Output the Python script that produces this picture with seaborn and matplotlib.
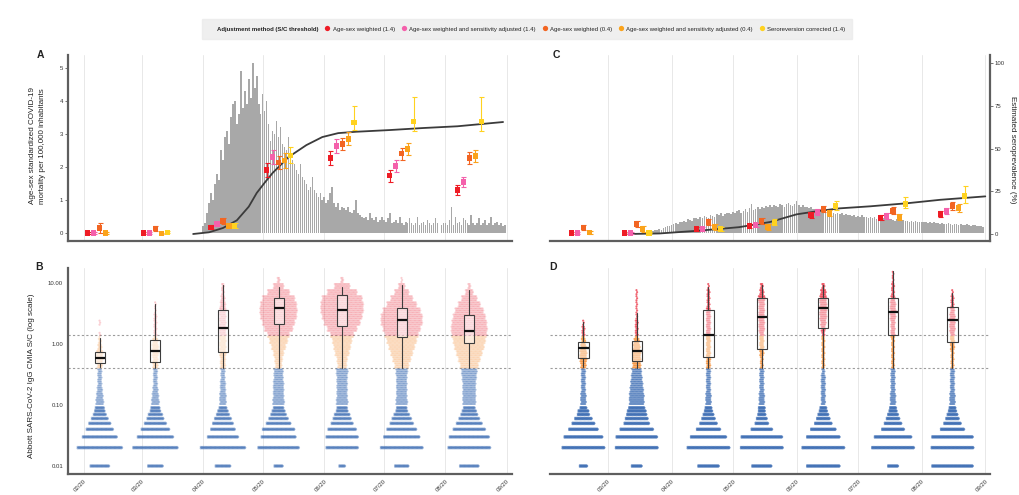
import numpy as np
import pandas as pd
import matplotlib
matplotlib.use("Agg")
import matplotlib.pyplot as plt
import matplotlib.dates as mdates
from matplotlib.lines import Line2D
import seaborn as sns

# ------------------------------------------------------------------ data
method_labels = [
    "Age-sex weighted (1.4)",
    "Age-sex weighted and sensitivity adjusted (1.4)",
    "Age-sex weighted (0.4)",
    "Age-sex weighted and sensitivity adjusted (0.4)",
    "Seroreversion corrected (1.4)",
]
method_colors = ["#ee1c25", "#f460ab", "#f26522", "#fba31b", "#ffd21f"]

manaus_ticks = ["2020-02-01", "2020-03-01", "2020-04-01", "2020-05-01",
                "2020-06-01", "2020-07-01", "2020-08-01", "2020-09-01"]
manaus_tick_labels = ["02/20", "03/20", "04/20", "05/20", "06/20", "07/20", "08/20", "09/20"]
sp_ticks = ["2020-03-01", "2020-04-01", "2020-05-01", "2020-06-01",
            "2020-07-01", "2020-08-01", "2020-09-01"]
sp_tick_labels = ["03/20", "04/20", "05/20", "06/20", "07/20", "08/20", "09/20"]

# daily age-sex standardised mortality per 100,000 (Manaus, from 1 April)
manaus_deaths_apr = [0.2, 0.3, 0.6, 0.9, 1.2, 1.0, 1.5, 1.8, 1.6, 2.5,
                     2.2, 2.9, 3.1, 2.7, 3.5, 3.9, 4.0, 3.3, 3.6, 4.9,
                     3.8, 4.3, 3.9, 4.65, 4.1, 5.15, 4.4, 4.75, 3.9, 3.6]
manaus_deaths_may = [4.2, 3.7, 4.0, 3.3, 2.8, 3.1, 3.0, 3.4, 2.9, 3.2,
                     2.7, 2.6, 2.5, 2.9, 2.3, 2.2, 2.1, 1.9, 1.8, 2.1,
                     1.7, 1.6, 1.5, 1.3, 1.4, 1.7, 1.3, 1.2, 1.1, 1.2, 1.0]
manaus_deaths_jun = [1.1, 0.9, 1.0, 1.2, 1.4, 0.9, 0.8, 0.9, 0.7, 0.8,
                     0.75, 0.7, 0.8, 0.65, 0.6, 0.7, 1.0, 0.6, 0.55, 0.5,
                     0.45, 0.5, 0.4, 0.6, 0.45, 0.4, 0.5, 0.35, 0.4, 0.5]
manaus_deaths_jul = [0.4, 0.35, 0.45, 0.6, 0.3, 0.35, 0.4, 0.3, 0.5, 0.3,
                     0.25, 0.35, 0.3, 0.45, 0.3, 0.25, 0.3, 0.5, 0.25, 0.3,
                     0.35, 0.25, 0.4, 0.3, 0.25, 0.3, 0.45, 0.3, 0.0, 0.25, 0.3]
manaus_deaths_aug = [0.3, 0.25, 0.4, 0.8, 0.25, 0.5, 0.3, 0.35, 0.25, 0.45,
                     0.4, 0.3, 0.25, 0.55, 0.3, 0.25, 0.3, 0.45, 0.25, 0.3,
                     0.4, 0.25, 0.3, 0.5, 0.25, 0.3, 0.35, 0.25, 0.3, 0.2, 0.25]

# daily age-sex standardised mortality per 100,000 (São Paulo, from 20 March)
sp_deaths_mar = [0.02, 0.03, 0.05, 0.06, 0.08, 0.1, 0.12, 0.1, 0.15, 0.18, 0.2, 0.22]
sp_deaths_apr = [0.25, 0.28, 0.3, 0.27, 0.32, 0.35, 0.38, 0.33, 0.42, 0.4,
                 0.36, 0.45, 0.47, 0.43, 0.5, 0.46, 0.52, 0.5, 0.45, 0.55,
                 0.53, 0.5, 0.58, 0.55, 0.6, 0.52, 0.57, 0.62, 0.6, 0.58]
sp_deaths_may = [0.63, 0.6, 0.66, 0.7, 0.62, 0.68, 0.72, 0.65, 0.75, 0.88,
                 0.7, 0.74, 0.78, 0.72, 0.8, 0.76, 0.83, 0.78, 0.85, 0.8,
                 0.86, 0.82, 0.78, 0.88, 0.84, 0.8, 0.87, 0.9, 0.85, 0.82, 0.88]
sp_deaths_jun = [0.97, 0.85, 0.8, 0.84, 0.78, 0.8, 0.75, 0.78, 0.72, 0.74,
                 0.7, 0.68, 0.72, 0.67, 0.64, 0.68, 0.62, 0.65, 0.6, 0.58,
                 0.62, 0.57, 0.6, 0.55, 0.58, 0.54, 0.56, 0.52, 0.55, 0.5]
sp_deaths_jul = [0.52, 0.5, 0.54, 0.48, 0.5, 0.47, 0.5, 0.46, 0.48, 0.44,
                 0.47, 0.43, 0.45, 0.42, 0.44, 0.4, 0.43, 0.41, 0.38, 0.42,
                 0.39, 0.37, 0.4, 0.36, 0.38, 0.35, 0.37, 0.34, 0.36, 0.33, 0.35]
sp_deaths_aug = [0.33, 0.32, 0.34, 0.31, 0.33, 0.3, 0.32, 0.29, 0.31, 0.27,
                 0.3, 0.28, 0.26, 0.29, 0.27, 0.25, 0.28, 0.26, 0.24, 0.27,
                 0.25, 0.23, 0.26, 0.24, 0.22, 0.25, 0.23, 0.21, 0.22, 0.2, 0.18]

# modelled cumulative attack rate (%)
manaus_curve_dates = ["2020-03-27", "2020-04-04", "2020-04-11", "2020-04-18", "2020-04-24",
                      "2020-04-28", "2020-05-02", "2020-05-06", "2020-05-14", "2020-05-23",
                      "2020-05-31", "2020-06-08", "2020-06-17", "2020-07-04", "2020-07-21",
                      "2020-08-07", "2020-08-30"]
manaus_curve = [0, 1, 3.5, 8, 16, 24, 30, 35.7, 45, 52, 56.7, 59, 59.8, 60.8, 62, 63, 65.5]
sp_curve_dates = ["2020-03-11", "2020-03-26", "2020-04-15", "2020-05-04", "2020-05-19",
                  "2020-06-01", "2020-06-12", "2020-06-22", "2020-07-07", "2020-07-25",
                  "2020-08-10", "2020-09-01"]
sp_curve = [0, 0.3, 2.0, 4.0, 7.0, 11.5, 13.5, 15.0, 16.2, 18.0, 20.0, 22.0]

# seroprevalence estimates (%) with 95% CI, one list per adjustment method
manaus_survey_dates = ["2020-02-09", "2020-03-08", "2020-04-11", "2020-05-09",
                       "2020-06-10", "2020-07-10", "2020-08-13"]
manaus_est = [
    [0.6, 0.6, 4.0, 37.4, 44.4, 34.0, 25.7],
    [0.6, 0.6, 5.8, 45.0, 51.5, 39.8, 30.4],
    [3.5, 3.0, 7.6, 42.0, 52.6, 47.0, 44.4],
    [0.6, 0.2, 4.7, 43.0, 55.6, 49.7, 45.6],
    [np.nan, 1.0, 4.7, 46.0, 65.0, 66.0, 66.0],
]
manaus_lo = [
    [0.2, 0.2, 3.0, 33.4, 40.5, 30.7, 22.7],
    [0.2, 0.2, 4.5, 40.7, 47.5, 36.3, 27.2],
    [0.5, 1.5, 6.1, 38.2, 49.1, 43.5, 41.0],
    [0.1, 0.0, 3.3, 38.8, 51.8, 46.1, 42.1],
    [np.nan, 0.3, 3.5, 41.5, 61.0, 60.5, 60.5],
]
manaus_hi = [
    [1.2, 1.2, 5.2, 41.4, 48.3, 37.3, 28.7],
    [1.0, 1.0, 7.1, 49.3, 55.5, 43.3, 33.6],
    [6.5, 4.5, 9.1, 45.8, 56.1, 50.5, 47.8],
    [1.1, 0.5, 6.1, 47.2, 59.4, 53.3, 49.1],
    [np.nan, 2.0, 6.5, 51.0, 74.7, 80.0, 80.0],
]
sp_survey_dates = ["2020-02-18", "2020-03-15", "2020-04-19", "2020-05-15",
                   "2020-06-14", "2020-07-18", "2020-08-16"]
sp_est = [
    [0.6, 0.6, 2.9, 4.7, 11.1, 9.4, 11.7],
    [0.6, 0.6, 2.9, 5.3, 12.9, 10.5, 13.5],
    [4.0, 5.8, 7.0, 7.6, 14.6, 13.5, 16.4],
    [1.0, 2.9, 4.1, 4.1, 12.3, 9.9, 15.2],
    [np.nan, 0.6, 2.9, 6.4, 16.4, 17.5, 22.2],
]
sp_lo = [
    [0.2, 0.2, 1.9, 3.5, 9.5, 7.9, 10.1],
    [0.2, 0.2, 1.9, 3.9, 11.0, 8.8, 11.6],
    [2.5, 4.0, 5.2, 5.8, 12.6, 11.5, 14.2],
    [0.2, 1.4, 2.5, 2.5, 10.3, 7.9, 13.0],
    [np.nan, 0.3, 2.0, 5.0, 14.0, 15.0, 18.0],
]
sp_hi = [
    [1.0, 1.0, 3.9, 5.9, 12.7, 10.9, 13.3],
    [1.0, 1.0, 3.9, 6.7, 14.8, 12.2, 15.4],
    [5.5, 7.6, 8.8, 9.4, 16.6, 15.5, 18.6],
    [1.8, 4.4, 5.7, 5.7, 14.3, 11.9, 17.4],
    [np.nan, 1.2, 4.0, 8.5, 19.5, 21.5, 28.0],
]

# S/C value levels: discrete low readings, then 0.1-decade bins
sc_rows = [0.01, 0.02, 0.03, 0.04, 0.05, 0.06, 0.07, 0.08, 0.09]
sc_bin_log_centres = np.linspace(-0.95, 1.15, 22)

# dots per row (low readings) and per bin, one list per monthly sample
manaus_row_counts = [
    [15, 35, 27, 21, 17, 13, 10, 8, 7],
    [12, 35, 28, 22, 17, 13, 11, 8, 7],
    [12, 35, 24, 19, 16, 13, 10, 8, 6],
    [7, 32, 27, 25, 19, 15, 12, 10, 8],
    [5, 25, 25, 22, 17, 14, 12, 9, 8],
    [11, 33, 28, 23, 18, 15, 12, 9, 8],
    [15, 33, 31, 25, 20, 16, 13, 11, 9],
]
manaus_bin_counts = [
    [6, 5, 4, 3, 3, 3, 4, 5, 5, 3, 2, 1, 0, 1, 0, 0, 0, 0, 0, 0, 0, 0],
    [6, 5, 4, 3, 3, 3, 4, 4, 5, 5, 4, 2, 2, 2, 2, 1, 1, 0, 0, 0, 0, 0],
    [5, 5, 4, 4, 3, 3, 4, 4, 5, 5, 5, 5, 5, 5, 5, 5, 4, 3, 2, 2, 0, 0],
    [9, 8, 8, 8, 7, 7, 5, 6, 8, 11, 14, 17, 22, 25, 28, 29, 28, 25, 17, 8, 2, 0],
    [9, 8, 8, 8, 8, 9, 7, 8, 11, 13, 15, 18, 23, 28, 31, 33, 33, 31, 23, 12, 2, 0],
    [9, 8, 8, 8, 8, 9, 11, 14, 17, 20, 23, 26, 29, 32, 32, 29, 23, 17, 11, 5, 1, 0],
    [10, 10, 10, 10, 11, 12, 14, 17, 20, 23, 25, 27, 28, 27, 25, 22, 17, 12, 6, 2, 0, 0],
]
sp_row_counts = [
    [6, 32, 29, 22, 17, 13, 9, 8, 5],
    [8, 32, 31, 25, 19, 17, 15, 14, 12],
    [16, 32, 27, 18, 13, 10, 8, 6, 5],
    [15, 32, 31, 16, 10, 8, 6, 5, 5],
    [25, 32, 25, 19, 13, 10, 8, 6, 5],
    [8, 32, 28, 17, 13, 10, 8, 6, 5],
    [31, 32, 31, 18, 13, 10, 8, 6, 5],
]
sp_bin_counts = [
    [4, 4, 3, 3, 3, 3, 4, 5, 5, 4, 3, 2, 2, 1, 0, 0, 0, 0, 0, 0, 0, 0],
    [11, 11, 10, 9, 8, 7, 6, 6, 6, 5, 4, 2, 2, 2, 1, 1, 1, 1, 1, 0, 0, 0],
    [4, 4, 3, 3, 3, 3, 3, 3, 3, 3, 3, 3, 3, 3, 3, 3, 2, 2, 2, 1, 0, 0],
    [4, 4, 3, 3, 3, 3, 2, 2, 3, 3, 3, 3, 4, 4, 4, 4, 4, 5, 3, 2, 0, 0],
    [3, 3, 3, 3, 3, 2, 2, 2, 2, 2, 2, 2, 3, 4, 5, 5, 5, 5, 4, 2, 0, 0],
    [4, 4, 3, 3, 3, 3, 2, 2, 2, 2, 2, 3, 3, 3, 4, 4, 4, 3, 2, 2, 1, 1],
    [4, 4, 3, 3, 3, 3, 2, 2, 2, 3, 3, 3, 4, 4, 4, 3, 2, 2, 1, 0, 0, 0],
]

# boxplot summaries of the reactive (S/C >= 0.4) samples
manaus_box_q1 = [0.49, 0.50, 0.74, 2.1, 1.97, 1.3, 1.04]
manaus_box_med = [0.59, 0.78, 1.83, 3.9, 3.6, 2.5, 1.63]
manaus_box_q3 = [0.74, 1.15, 3.6, 5.7, 6.3, 3.9, 3.0]
manaus_box_lo = [0.42, 0.40, 0.40, 0.40, 0.40, 0.40, 0.40]
manaus_box_hi = [1.25, 4.5, 9.3, 8.6, 8.6, 9.3, 7.7]
sp_box_q1 = [0.59, 0.53, 0.61, 0.83, 1.83, 1.4, 1.08]
sp_box_med = [0.86, 0.77, 1.4, 2.8, 3.9, 3.3, 2.5]
sp_box_q3 = [1.08, 1.12, 3.6, 5.7, 5.7, 5.7, 4.0]
sp_box_lo = [0.42, 0.40, 0.40, 0.40, 0.40, 0.40, 0.40]
sp_box_hi = [2.3, 3.2, 8.6, 9.3, 9.3, 16.0, 6.9]

sc_thresholds = [0.4, 1.4]

# ------------------------------------------------------------------ style
sns.set_theme(style="white")
plt.rcParams["font.family"] = ["Liberation Sans", "DejaVu Sans"]
plt.rcParams["text.color"] = "#222222"

SPINE = "#5e5e5e"
GRID = "#e8e8e8"
BAR = "#a8a8a8"
DOT_COLORS = {"neg": "#3f6fb5", "ind": "#f5821f", "pos": "#ea2436"}


def to_num(dates):
    return mdates.date2num(pd.to_datetime(pd.Series(dates)).dt.to_pydatetime())


def style_axis(ax, ticks, left=False, bottom=True, right=False):
    for side, show in (("left", left), ("bottom", bottom), ("right", right), ("top", False)):
        ax.spines[side].set_visible(show)
        ax.spines[side].set_color(SPINE)
        ax.spines[side].set_linewidth(1.6)
    ax.set_xticks(to_num(ticks))
    for t in to_num(ticks):
        ax.axvline(t, color=GRID, lw=0.7, zorder=0)
    ax.tick_params(axis="both", labelsize=4.3, length=2, width=0.6, color=SPINE,
                   labelcolor="#333333", pad=1.5)
    ax.set_xlabel("")
    ax.set_ylabel("")
    ax.grid(False)


def draw_bars(ax, start, monthly):
    vals = np.concatenate([np.asarray(m, float) for m in monthly])
    days = pd.date_range(start, periods=len(vals), freq="D")
    x = mdates.date2num(days.to_pydatetime())
    sns.barplot(x=x, y=vals, native_scale=True, orient="x", color=BAR, saturation=1,
                errorbar=None, width=0.8, linewidth=0, ax=ax, zorder=1)


def draw_estimates(ax, dates, est, lo, hi, dodge=3.0):
    base = to_num(dates)
    frames = []
    for k in range(len(method_labels)):
        e = np.asarray(est[k], float)
        l = np.asarray(lo[k], float)
        h = np.asarray(hi[k], float)
        ok = ~np.isnan(e)
        x = base + (k - 2) * dodge
        ax.errorbar(x[ok], e[ok], yerr=[e[ok] - l[ok], h[ok] - e[ok]], fmt="none",
                    ecolor=method_colors[k], elinewidth=0.8, capsize=1.8, capthick=0.8,
                    zorder=3)
        frames.append(pd.DataFrame({"x": x[ok], "y": e[ok], "method": method_labels[k]}))
    df = pd.concat(frames, ignore_index=True)
    sns.scatterplot(data=df, x="x", y="y", hue="method",
                    palette=dict(zip(method_labels, method_colors)),
                    marker="s", s=14, linewidth=0, legend=False, ax=ax, zorder=4)


def draw_curve(ax, dates, vals):
    sns.lineplot(x=to_num(dates), y=vals, color="#3b3b3b", linewidth=1.3, ax=ax, zorder=2)


def dot_frame(dates, row_counts, bin_counts, step=0.65):
    """Lay the dots of each sample out in centred, staggered rows."""
    centres = to_num(dates)
    xs, ys = [], []
    row_offsets = (-0.012, 0.0, 0.012)
    bin_offsets = (-0.033, 0.0, 0.033)
    for c, rows, bins in zip(centres, row_counts, bin_counts):
        lv = [(np.log10(v), n, row_offsets) for v, n in zip(sc_rows, rows)]
        lv += [(lc, n, bin_offsets) for lc, n in zip(sc_bin_log_centres, bins)]
        for logv, n, offs in lv:
            if n <= 0:
                continue
            for j, off in enumerate(offs):
                k = np.arange(n) - (n - 1) / 2 + (0.3 if j % 2 else -0.2)
                xs.append(c + k * step)
                ys.append(np.full(n, 10 ** (logv + off)))
    x = np.concatenate(xs)
    y = np.concatenate(ys)
    cls = np.where(y < sc_thresholds[0], "neg", np.where(y < sc_thresholds[1], "ind", "pos"))
    return pd.DataFrame({"x": x, "y": y, "cls": cls})


def draw_dots(ax, dates, row_counts, bin_counts, q1, med, q3, lo, hi, alpha_neg, alpha_pos):
    ax.set_yscale("log")
    df = dot_frame(dates, row_counts, bin_counts)
    neg = df[df["cls"] == "neg"]
    rest = df[df["cls"] != "neg"]
    sns.scatterplot(data=neg, x="x", y="y", hue="cls", palette=DOT_COLORS, s=2.4,
                    linewidth=0, alpha=alpha_neg, legend=False, ax=ax, zorder=2)
    sns.scatterplot(data=rest, x="x", y="y", hue="cls", palette=DOT_COLORS, s=2.4,
                    linewidth=0, alpha=alpha_pos, legend=False, ax=ax, zorder=2)
    for thr in sc_thresholds:
        ax.axhline(thr, color="#9c9c9c", lw=0.8, ls=(0, (2, 2)), zorder=1)
    stats = [dict(q1=a, med=b, q3=c, whislo=d, whishi=e, fliers=[])
             for a, b, c, d, e in zip(q1, med, q3, lo, hi)]
    ax.bxp(stats, positions=to_num(dates), widths=5.0, showfliers=False, showcaps=False,
           patch_artist=True, manage_ticks=False, zorder=5,
           boxprops=dict(facecolor=(1, 1, 1, 0.45), edgecolor="#3d3d3d", linewidth=0.8),
           medianprops=dict(color="#111111", linewidth=1.6),
           whiskerprops=dict(color="#3d3d3d", linewidth=0.8))


# ------------------------------------------------------------------ figure
fig = plt.figure(figsize=(10.2, 4.95), dpi=100)
W, H = 1020.0, 495.0


def frame(x0, x1, ytop, ybot):
    return [x0 / W, 1 - ybot / H, (x1 - x0) / W, (ybot - ytop) / H]


ax_a = fig.add_axes(frame(68, 512, 55, 241))
ax_c = fig.add_axes(frame(550, 990, 55, 241))
ax_b = fig.add_axes(frame(68, 512, 268, 474))
ax_d = fig.add_axes(frame(550, 990, 268, 474))

manaus_xlim = (to_num(["2020-01-24"])[0], to_num(["2020-09-03"])[0] + 0.5)
sp_xlim = (to_num(["2020-02-01"])[0] + 0.7, to_num(["2020-09-03"])[0] + 0.3)
mort_ylim = (-0.24, 5.39)
pct_ylim = (-4.1, 104.7)
sc_ylim = (10 ** -2.131, 10 ** 1.246)

# Panel A: Manaus mortality + seroprevalence
draw_bars(ax_a, "2020-04-01", [manaus_deaths_apr, manaus_deaths_may, manaus_deaths_jun,
                               manaus_deaths_jul, manaus_deaths_aug])
style_axis(ax_a, manaus_ticks, left=True)
ax_a.set_xticklabels([])
ax_a.set_yticks([0, 1, 2, 3, 4, 5])
ax_a.set_xlim(*manaus_xlim)
ax_a.set_ylim(*mort_ylim)
ax_a2 = ax_a.twinx()
draw_curve(ax_a2, manaus_curve_dates, manaus_curve)
draw_estimates(ax_a2, manaus_survey_dates, manaus_est, manaus_lo, manaus_hi)
ax_a2.set_ylim(*pct_ylim)
ax_a2.set_xlim(*manaus_xlim)
ax_a2.axis("off")

# Panel C: São Paulo mortality + seroprevalence
draw_bars(ax_c, "2020-03-20", [sp_deaths_mar, sp_deaths_apr, sp_deaths_may,
                               sp_deaths_jun, sp_deaths_jul, sp_deaths_aug])
style_axis(ax_c, sp_ticks)
ax_c.set_xticklabels([])
ax_c.set_yticks([])
ax_c.set_xlim(*sp_xlim)
ax_c.set_ylim(*mort_ylim)
ax_c2 = ax_c.twinx()
draw_curve(ax_c2, sp_curve_dates, sp_curve)
draw_estimates(ax_c2, sp_survey_dates, sp_est, sp_lo, sp_hi)
ax_c2.set_ylim(*pct_ylim)
ax_c2.set_xlim(*sp_xlim)
for side in ("left", "top", "bottom"):
    ax_c2.spines[side].set_visible(False)
ax_c2.spines["right"].set_color(SPINE)
ax_c2.spines["right"].set_linewidth(1.6)
ax_c2.set_yticks([0, 25, 50, 75, 100])
ax_c2.tick_params(axis="y", labelsize=4.3, length=2, width=0.6, color=SPINE,
                  labelcolor="#333333", pad=1.5)
ax_c2.set_ylabel("")
ax_c2.grid(False)

# Panel B: Manaus S/C distributions
draw_dots(ax_b, manaus_survey_dates, manaus_row_counts, manaus_bin_counts,
          manaus_box_q1, manaus_box_med, manaus_box_q3, manaus_box_lo, manaus_box_hi,
          alpha_neg=0.45, alpha_pos=0.22)
style_axis(ax_b, manaus_ticks, left=True)
ax_b.set_xticklabels(manaus_tick_labels, rotation=45, ha="right", rotation_mode="anchor")
ax_b.set_yticks([0.01, 0.1, 1, 10])
ax_b.set_yticklabels(["0.01", "0.10", "1.00", "10.00"])
ax_b.minorticks_off()
ax_b.set_xlim(*manaus_xlim)
ax_b.set_ylim(*sc_ylim)

# Panel D: São Paulo S/C distributions
draw_dots(ax_d, sp_survey_dates, sp_row_counts, sp_bin_counts,
          sp_box_q1, sp_box_med, sp_box_q3, sp_box_lo, sp_box_hi,
          alpha_neg=0.7, alpha_pos=0.7)
style_axis(ax_d, sp_ticks)
ax_d.set_xticklabels(sp_tick_labels, rotation=45, ha="right", rotation_mode="anchor")
ax_d.set_yticks([])
ax_d.minorticks_off()
ax_d.set_xlim(*sp_xlim)
ax_d.set_ylim(*sc_ylim)

# axis titles and panel tags
fig.text(37.5 / W, 1 - 146 / H, "Age-sex standardized COVID-19\nmortality per 100,000 inhabitants",
         rotation=90, ha="center", va="center", fontsize=5.8, linespacing=1.5)
fig.text(32 / W, 1 - 376 / H, "Abbott SARS-CoV-2 IgG CMIA S/C (log scale)",
         rotation=90, ha="center", va="center", fontsize=5.8)
fig.text(1013 / W, 1 - 150 / H, "Estimated seroprevalence (%)",
         rotation=270, ha="center", va="center", fontsize=5.8)
for tag, (px, py) in {"A": (40, 55), "B": (39, 267), "C": (556, 55), "D": (553, 267)}.items():
    fig.text(px / W, 1 - py / H, tag, fontsize=7.5, fontweight="bold", ha="center", va="center")

# legend strip
handles = [Line2D([], [], linestyle="", marker="", color="none")]
handles += [Line2D([], [], linestyle="", marker="o", markersize=3.8, color=c,
                   markeredgewidth=0) for c in method_colors]
labels = ["Adjustment method (S/C threshold)"] + method_labels
leg = fig.legend(handles, labels, ncol=6, loc="center", bbox_to_anchor=(527 / W, 1 - 29 / H),
                 fontsize=4.3, frameon=True, fancybox=False, handlelength=0.9,
                 handletextpad=0.45, columnspacing=1.05, borderpad=1.2)
leg.get_frame().set_facecolor("#ebebeb")
leg.get_frame().set_edgecolor("#ebebeb")
leg.get_texts()[0].set_fontweight("bold")

fig.savefig("out.png", dpi=100, facecolor="white")
